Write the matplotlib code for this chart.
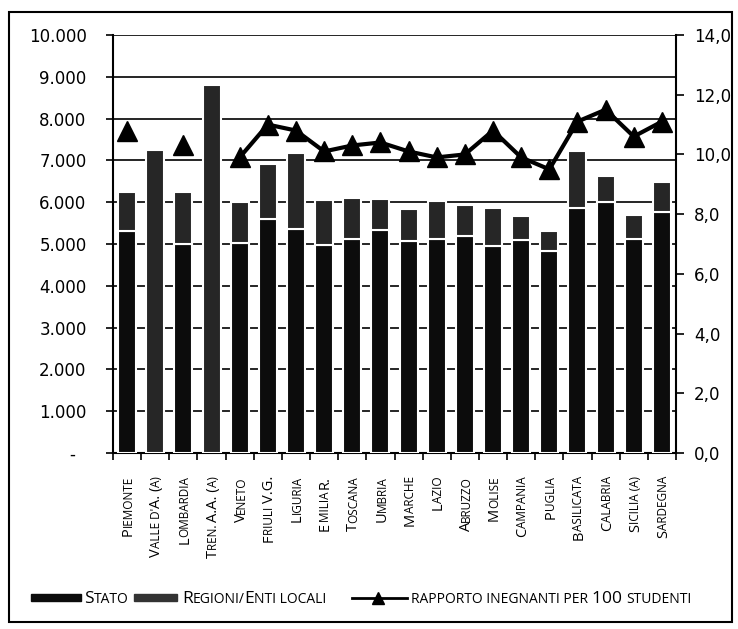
import numpy as np
import matplotlib.pyplot as plt
from matplotlib.font_manager import FontProperties
from matplotlib.patches import Rectangle
from matplotlib.lines import Line2D
from matplotlib.ticker import FuncFormatter, MultipleLocator

categories = ["Piemonte", "Valle d'A. (a)", "Lombardia", "Tren. A.A. (a)", "Veneto",
              "Friuli V.G.", "Liguria", "Emilia R.", "Toscana", "Umbria", "Marche",
              "Lazio", "Abruzzo", "Molise", "Campania", "Puglia", "Basilicata",
              "Calabria", "Sicilia (a)", "Sardegna"]
stato = [5300, 0, 5010, 0, 5030, 5590, 5370, 4980, 5120, 5330,
         5060, 5130, 5180, 4950, 5100, 4840, 5850, 6010, 5110, 5760]
regioni = [940, 7260, 1230, 8800, 970, 1320, 1800, 1070, 970, 750,
           770, 900, 750, 900, 570, 480, 1380, 620, 590, 730]
rapporto = [10.8, np.nan, 10.3, np.nan, 9.9, 11.0, 10.8, 10.1, 10.3, 10.4,
            10.1, 9.9, 10.0, 10.8, 9.9, 9.5, 11.1, 11.5, 10.6, 11.1]
legend_labels = ["Stato", "Regioni/Enti locali", "rapporto inegnanti per 100 studenti"]

W, H = 738, 629
fig = plt.figure(figsize=(W / 100, H / 100), dpi=100)
ax = fig.add_axes([113 / W, 1 - 453 / H, (676 - 113) / W, (453 - 35) / H])

x = np.arange(len(categories))
ax.bar(x, stato, 0.64, color='#0c0c0c', edgecolor='white', linewidth=1.5, zorder=3)
ax.bar(x, regioni, 0.64, bottom=stato, color='#262626', edgecolor='white', linewidth=1.5, zorder=3)

ax.set_xlim(-0.5, len(categories) - 0.5)
ax.set_ylim(0, 10000)
ax.yaxis.set_major_locator(MultipleLocator(1000))
ax.yaxis.set_major_formatter(FuncFormatter(
    lambda v, p: '-  ' if v == 0 else f'{int(v):,}'.replace(',', '.')))
ax.grid(axis='y', color='black', lw=1.2, zorder=0)
ax.set_axisbelow(True)
ax.set_xticks(np.arange(-0.5, len(categories), 1))
ax.set_xticklabels([])
ax.tick_params(axis='x', length=5, width=1.2, direction='out')
ax.tick_params(axis='y', length=5, width=1.2, pad=14, labelsize=12)
for s in ['top', 'right']:
    ax.spines[s].set_visible(False)
for s in ['left', 'bottom']:
    ax.spines[s].set_linewidth(1.5)

ax2 = ax.twinx()
ax2.plot(x, rapporto, color='black', lw=3, marker='^', ms=14, zorder=5)
ax2.set_ylim(0, 14)
ax2.yaxis.set_major_locator(MultipleLocator(2))
ax2.yaxis.set_major_formatter(FuncFormatter(lambda v, p: f'{v:.1f}'.replace('.', ',')))
ax2.tick_params(axis='y', length=6, width=1.2, pad=7, labelsize=12)
for s in ['top', 'left', 'bottom']:
    ax2.spines[s].set_visible(False)
ax2.spines['right'].set_linewidth(1.5)

# small caps done by hand: capitals/digits big, lowercase as smaller capitals
renderer = fig.canvas.get_renderer()
lab_big = FontProperties(family='Open Sans', size=10.5)
lab_small = FontProperties(family='Open Sans', size=8.5)
leg_big = FontProperties(family='Open Sans', size=12.5)
leg_small = FontProperties(family='Open Sans', size=10)


def run_width(s, fp):
    # '|' on both sides so spaces count and nothing kerns
    w1, _, _ = renderer.get_text_width_height_descent('|' + s + '|', fp, ismath=False)
    w0, _, _ = renderer.get_text_width_height_descent('||', fp, ismath=False)
    return w1 - w0


def split_runs(text, big_fp, small_fp):
    runs = []
    for ch in text:
        small = ch.islower()
        # spaces and punctuation stay with the run before them
        if not ch.isalnum() and runs:
            small = runs[-1][1]
        if runs and runs[-1][1] == small:
            runs[-1][0] += ch
        else:
            runs.append([ch, small])
    return [(r.upper(), small_fp if sm else big_fp) for r, sm in runs]


def smallcaps(text, xy, xycoords, dx, dy, big_fp, small_fp, rotation=0, align_end=False):
    runs = split_runs(text, big_fp, small_fp)
    widths = [run_width(r, fp) for r, fp in runs]
    cx, cy = np.cos(np.radians(rotation)), np.sin(np.radians(rotation))
    pos = -sum(widths) if align_end else 0
    for (r, fp), w in zip(runs, widths):
        ax.annotate(r, xy, xycoords=xycoords, xytext=(dx + cx * pos, dy + cy * pos),
                    textcoords='offset pixels', rotation=rotation, rotation_mode='anchor',
                    ha='left', va='baseline', fontproperties=fp, annotation_clip=False)
        pos += w
    return sum(widths)


for i, cat in enumerate(categories):
    smallcaps(cat, (i, 0), 'data', 5, -23, lab_big, lab_small, rotation=90, align_end=True)

# legend drawn by hand
fig.patches.append(Rectangle((31 / W, (H - 601) / H), 50 / W, 7 / H,
                             transform=fig.transFigure, color='#0c0c0c'))
w_stato = smallcaps(legend_labels[0], (84, H - 603), 'figure pixels', 0, 0, leg_big, leg_small)
p2 = max(127, 84 + w_stato + 6)
fig.patches.append(Rectangle((p2 / W, (H - 601) / H), (177 - p2) / W, 7 / H,
                             transform=fig.transFigure, color='#333333'))
smallcaps(legend_labels[1], (182, H - 603), 'figure pixels', 0, 0, leg_big, leg_small)
fig.lines.append(Line2D([352 / W, 407 / W], [(H - 598) / H] * 2,
                        transform=fig.transFigure, color='black', lw=2))
fig.lines.append(Line2D([378 / W], [(H - 598) / H], transform=fig.transFigure,
                        color='black', marker='^', ms=9))
smallcaps(legend_labels[2], (411, H - 603), 'figure pixels', 0, 0, leg_big, leg_small)

fig.patches.append(Rectangle((9 / W, 1 - 622 / H), (732 - 9) / W, (622 - 12) / H,
                             transform=fig.transFigure, fill=False, lw=1.5, ec='black'))

fig.savefig('out.png', dpi=100)
